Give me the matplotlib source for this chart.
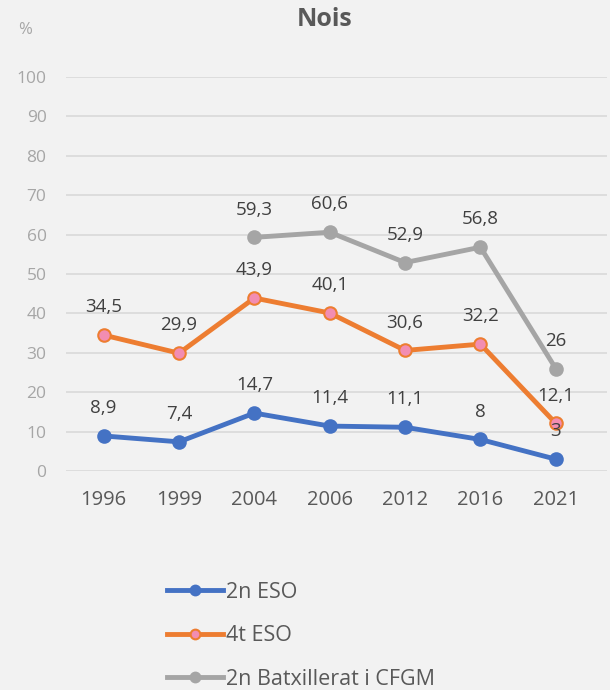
import matplotlib.pyplot as plt
from matplotlib.lines import Line2D

plt.rcParams['font.family'] = ['Open Sans', 'DejaVu Sans']

years = ['1996', '1999', '2004', '2006', '2012', '2016', '2021']
eso2 = [8.9, 7.4, 14.7, 11.4, 11.1, 8, 3]
eso4 = [34.5, 29.9, 43.9, 40.1, 30.6, 32.2, 12.1]
batx = [None, None, 59.3, 60.6, 52.9, 56.8, 26]
series_names = ['2n ESO', '4t ESO', '2n Batxillerat i CFGM']

bg = '#F2F2F2'
fig = plt.figure(figsize=(6.1, 6.9), dpi=100, facecolor=bg)
ax = fig.add_axes([66/610, 219/690, (607-66)/610, 394/690])
ax.set_facecolor(bg)

x = list(range(len(years)))
styles = [
    dict(color='#4472C4', mfc='#4472C4', mec='#4472C4'),
    dict(color='#ED7D31', mfc='#F28DB2', mec='#ED7D31'),
    dict(color='#A5A5A5', mfc='#A5A5A5', mec='#A5A5A5'),
]
handles = []
for vals, st, name in zip([eso2, eso4, batx], styles, series_names):
    xs = [i for i, v in zip(x, vals) if v is not None]
    ys = [v for v in vals if v is not None]
    ax.plot(xs, ys, lw=3.5, marker='o', ms=9, mew=1.5, zorder=3, **st)
    for xi, yi in zip(xs, ys):
        txt = ('%g' % yi).replace('.', ',')
        ax.annotate(txt, (xi, yi), xytext=(0, 20), textcoords='offset points',
                    ha='center', va='center', fontsize=13.5, color='#404040', zorder=4)
    handles.append(Line2D([], [], lw=3.5, marker='o', ms=7, mew=1.5, **st))

ax.set_xlim(-0.5, 6.68)
ax.set_ylim(0, 100)
ax.set_yticks(range(0, 101, 10))
ax.set_xticks(x)
ax.set_xticklabels(years)
ax.yaxis.grid(True, color='#D9D9D9', lw=1.2)
ax.set_axisbelow(True)
for s in ax.spines.values():
    s.set_visible(False)
ax.tick_params(axis='y', length=0, labelsize=12.5, labelcolor='#A6A6A6', pad=14)
ax.tick_params(axis='x', length=0, labelsize=14.5, labelcolor='#595959', pad=14)

fig.text(325/610, 1 - 20/690, 'Nois', ha='center', va='center', fontsize=18,
         fontweight='bold', color='#595959')
fig.text(25/610, 1 - 30/690, '%', ha='center', va='center', fontsize=12,
         color='#A6A6A6')

fig.legend(handles, series_names, loc='upper left', bbox_to_anchor=(158/610, 1 - 573/690),
           frameon=False, fontsize=15.5, labelcolor='#595959', handlelength=2.6,
           handletextpad=0.15, labelspacing=1.05, borderaxespad=0)

fig.savefig('out.png', dpi=100, facecolor=bg)
